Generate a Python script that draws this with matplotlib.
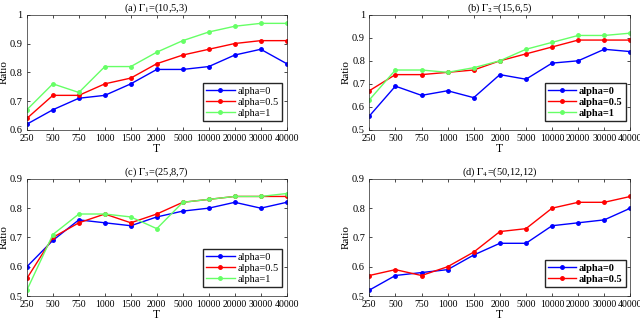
import numpy as np
import matplotlib
matplotlib.use("Agg")
import matplotlib.pyplot as plt

plt.rcParams['font.family'] = ['Liberation Serif', 'DejaVu Serif']
plt.rcParams['mathtext.fontset'] = 'stix'
plt.rcParams['xtick.direction'] = 'in'
plt.rcParams['ytick.direction'] = 'in'
plt.rcParams['xtick.top'] = True
plt.rcParams['ytick.right'] = True

# x categories (T)
t_labels = ['250', '500', '750', '1000', '1500', '2000', '5000', '10000', '20000', '30000', '40000']

# (a) Gamma_1
a_alpha0 = [0.62, 0.67, 0.71, 0.72, 0.76, 0.81, 0.81, 0.82, 0.86, 0.88, 0.83]
a_alpha05 = [0.64, 0.72, 0.72, 0.76, 0.78, 0.83, 0.86, 0.88, 0.90, 0.91, 0.91]
a_alpha1 = [0.67, 0.76, 0.73, 0.82, 0.82, 0.87, 0.91, 0.94, 0.96, 0.97, 0.97]

# (b) Gamma_2
b_alpha0 = [0.56, 0.69, 0.65, 0.67, 0.64, 0.74, 0.72, 0.79, 0.80, 0.85, 0.84]
b_alpha05 = [0.67, 0.74, 0.74, 0.75, 0.76, 0.80, 0.83, 0.86, 0.89, 0.89, 0.89]
b_alpha1 = [0.63, 0.76, 0.76, 0.75, 0.77, 0.80, 0.85, 0.88, 0.91, 0.91, 0.92]

# (c) Gamma_3
c_alpha0 = [0.60, 0.69, 0.76, 0.75, 0.74, 0.77, 0.79, 0.80, 0.82, 0.80, 0.82]
c_alpha05 = [0.56, 0.70, 0.75, 0.78, 0.75, 0.78, 0.82, 0.83, 0.84, 0.84, 0.84]
c_alpha1 = [0.52, 0.71, 0.78, 0.78, 0.77, 0.73, 0.82, 0.83, 0.84, 0.84, 0.85]

# (d) Gamma_4
d_alpha0 = [0.52, 0.57, 0.58, 0.59, 0.64, 0.68, 0.68, 0.74, 0.75, 0.76, 0.80]
d_alpha05 = [0.57, 0.59, 0.57, 0.60, 0.65, 0.72, 0.73, 0.80, 0.82, 0.82, 0.84]

colors = {'alpha=0': '#0000ff', 'alpha=0.5': '#ff0000', 'alpha=1': '#66ff66'}

panels = [
    (r'(a) $\Gamma_1$=(10,5,3)', [a_alpha0, a_alpha05, a_alpha1], (0.6, 1.0), [0.6, 0.7, 0.8, 0.9, 1.0],
     [0.042, 0.594, 0.406, 0.360], 'normal'),
    (r'(b) $\Gamma_2$=(15,6,5)', [b_alpha0, b_alpha05, b_alpha1], (0.5, 1.0), [0.5, 0.6, 0.7, 0.8, 0.9, 1.0],
     [0.577, 0.594, 0.408, 0.360], 'bold'),
    (r'(c) $\Gamma_3$=(25,8,7)', [c_alpha0, c_alpha05, c_alpha1], (0.5, 0.9), [0.5, 0.6, 0.7, 0.8, 0.9],
     [0.042, 0.075, 0.406, 0.366], 'normal'),
    (r'(d) $\Gamma_4$=(50,12,12)', [d_alpha0, d_alpha05], (0.5, 0.9), [0.5, 0.6, 0.7, 0.8, 0.9],
     [0.577, 0.075, 0.408, 0.366], 'bold'),
]

fig = plt.figure(figsize=(6.4, 3.2), dpi=100)
x = np.arange(len(t_labels))
names = list(colors.keys())

for title, series, ylim, yticks, rect, weight in panels:
    ax = fig.add_axes(rect)
    for name, vals in zip(names, series):
        ax.plot(x, vals, '-', marker='.', color=colors[name], lw=1.0, ms=5, label=name)
    ax.set_xlim(0, len(t_labels) - 1)
    ax.set_ylim(*ylim)
    ax.set_xticks(x)
    ax.set_xticklabels(t_labels)
    ax.set_yticks(yticks)
    ax.set_yticklabels(['%g' % v for v in yticks])
    ax.tick_params(length=2.5, width=0.5)
    ax.tick_params(axis='x', pad=3, labelsize=7)
    ax.tick_params(axis='y', pad=3, labelsize=7.5)
    for s in ax.spines.values():
        s.set_linewidth(0.5)
        s.set_color('#262626')
    ax.set_title(title, fontsize=7.5, pad=2)
    ax.set_xlabel('T', fontsize=8.5, labelpad=0)
    ax.set_ylabel('Ratio', fontsize=8, labelpad=1)
    ax.legend(loc='lower right', bbox_to_anchor=(0.982, 0.08), borderaxespad=0,
              prop={'weight': weight, 'size': 7.5},
              handlelength=2.7, handletextpad=0.3, labelspacing=0.15, borderpad=0.3,
              fancybox=False, edgecolor='#262626', framealpha=1)

fig.savefig('out.png', dpi=100)
